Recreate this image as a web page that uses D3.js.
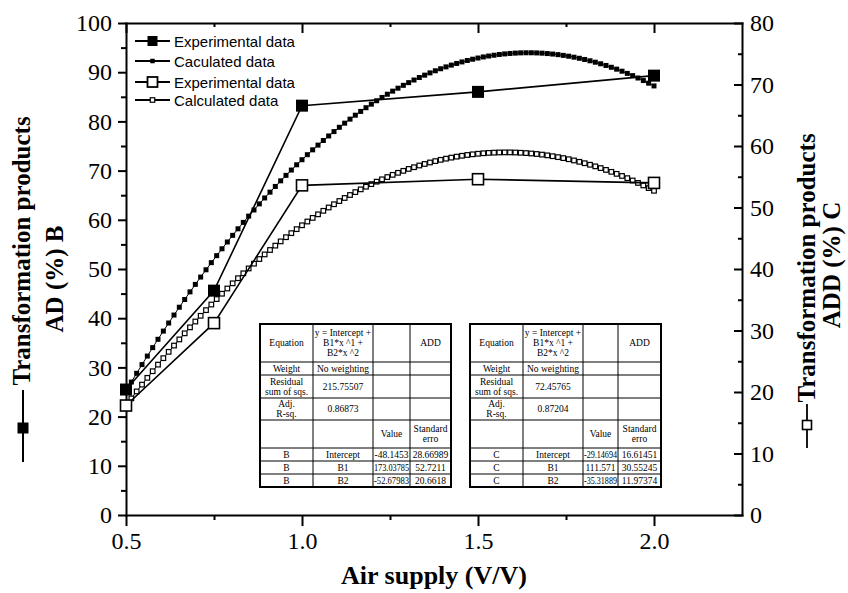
<!DOCTYPE html>
<html>
<head>
<meta charset="utf-8">
<title>Transformation products vs air supply</title>
<script src="https://d3js.org/d3.v7.min.js"></script>
<style>
	body { margin: 0; background: #fff; }
</style>
</head>
<body>
<script>

	// experimental points (B on left axis, C on right axis)
	var exp_x = [0.5, 0.75, 1.0, 1.5, 2.0];
	var exp_b = [25.5, 45.6, 83.2, 86.0, 89.3];
	var exp_c = [17.8, 31.2, 53.6, 54.6, 54.0];

	// calculated (fitted) curves, 100 points each
	var calc_x = [0.5,0.5152,0.5303,0.5455,0.5606,0.5758,0.5909,0.6061,0.6212,0.6364,0.6515,0.6667,0.6818,0.697,0.7121,0.7273,0.7424,0.7576,0.7727,0.7879,0.803,0.8182,0.8333,0.8485,0.8636,0.8788,0.8939,0.9091,0.9242,0.9394,0.9545,0.9697,0.9848,
		1.0,1.0152,1.0303,1.0455,1.0606,1.0758,1.0909,1.1061,1.1212,1.1364,1.1515,1.1667,1.1818,1.197,1.2121,1.2273,1.2424,1.2576,1.2727,1.2879,1.303,1.3182,1.3333,1.3485,1.3636,1.3788,1.3939,1.4091,1.4242,1.4394,1.4545,1.4697,1.4848,
		1.5,1.5152,1.5303,1.5455,1.5606,1.5758,1.5909,1.6061,1.6212,1.6364,1.6515,1.6667,1.6818,1.697,1.7121,1.7273,1.7424,1.7576,1.7727,1.7879,1.803,1.8182,1.8333,1.8485,1.8636,1.8788,1.8939,1.9091,1.9242,1.9394,1.9545,1.9697,1.9848,2.0];
	var calc_b = [25.2,27.02,28.8,30.57,32.3,34.02,35.71,37.38,39.02,40.64,42.23,43.8,45.35,46.87,48.36,49.84,51.29,52.71,54.11,55.49,56.84,58.17,59.47,60.75,62.0,63.24,64.44,65.62,66.78,67.92,69.03,70.11,71.18,
		72.21,73.23,74.22,75.18,76.12,77.04,77.93,78.8,79.64,80.46,81.26,82.03,82.78,83.5,84.2,84.87,85.52,86.15,86.75,87.33,87.88,88.41,88.92,89.4,89.86,90.29,90.7,91.08,91.44,91.78,92.09,92.38,92.64,
		92.88,93.1,93.29,93.45,93.6,93.72,93.81,93.88,93.93,93.95,93.95,93.92,93.87,93.79,93.69,93.57,93.42,93.25,93.05,92.83,92.59,92.32,92.03,91.71,91.37,91.0,90.62,90.2,89.76,89.3,88.82,88.3,87.77,87.21];
	var calc_c = [17.81,18.96,20.09,21.2,22.3,23.38,24.45,25.5,26.53,27.55,28.55,29.54,30.51,31.46,32.39,33.31,34.22,35.11,35.98,36.83,37.67,38.5,39.3,40.09,40.87,41.62,42.37,43.09,43.8,44.49,45.17,45.83,46.48,
		47.11,47.72,48.31,48.89,49.46,50.0,50.53,51.05,51.55,52.03,52.5,52.95,53.38,53.8,54.2,54.58,54.95,55.31,55.64,55.96,56.27,56.55,56.83,57.08,57.32,57.54,57.75,57.94,58.11,58.27,58.41,58.54,58.65,
		58.74,58.82,58.88,58.92,58.95,58.96,58.96,58.94,58.9,58.85,58.78,58.7,58.6,58.48,58.34,58.19,58.03,57.85,57.65,57.43,57.2,56.95,56.69,56.41,56.11,55.8,55.47,55.13,54.77,54.39,54.0,53.59,53.16,52.72];

	// ticks
	var x_major = [0.5, 1.0, 1.5, 2.0];
	var x_minor = [0.75, 1.25, 1.75];
	var yl_major = [0, 10, 20, 30, 40, 50, 60, 70, 80, 90, 100];
	var yl_minor = [5, 15, 25, 35, 45, 55, 65, 75, 85, 95];
	var yr_major = [0, 10, 20, 30, 40, 50, 60, 70, 80];
	var yr_minor = [5, 15, 25, 35, 45, 55, 65, 75];

	var legend_labels = ["Experimental data", "Caculated data", "Experimental data", "Calculated data"];
	var legend_marks = ["big_filled", "small_filled", "big_open", "small_open"];

	// fit tables
	var table_b = [
		["Equation", "y = Intercept +\nB1*x ^1 +\nB2*x ^2", "", "ADD"],
		["Weight", "No weighting", "", ""],
		["Residual\nsum of sqs.", "215.75507", "", ""],
		["Adj.\nR-sq.", "0.86873", "", ""],
		["", "", "Value", "Standard\nerro"],
		["B", "Intercept", "-48.1453", "28.66989"],
		["B", "B1", "173.03785", "52.7211"],
		["B", "B2", "-52.67983", "20.6618"]
	];
	var table_c = [
		["Equation", "y = Intercept +\nB1*x ^1 +\nB2*x ^2", "", "ADD"],
		["Weight", "No weighting", "", ""],
		["Residual\nsum of sqs.", "72.45765", "", ""],
		["Adj.\nR-sq.", "0.87204", "", ""],
		["", "", "Value", "Standard\nerro"],
		["C", "Intercept", "-29.14694", "16.61451"],
		["C", "B1", "111.571", "30.55245"],
		["C", "B2", "-35.31889", "11.97374"]
	];

	var serif = "'Liberation Serif', 'Times New Roman', serif";
	var sans = "'Liberation Sans', Arial, sans-serif";

	var width = 848;
	var height = 593;

	var svg = d3.select('body').append('svg')
		.attr('width', width)
		.attr('height', height);

	var x = d3.scaleLinear().domain([0.5, 2.25]).range([126, 742]);
	var yl = d3.scaleLinear().domain([0, 100]).range([515, 23]);
	var yr = d3.scaleLinear().domain([0, 80]).range([515, 23]);

	// axis styling helper
	function style_axis(g, keep_domain) {
		if (!keep_domain) {
			g.select('.domain').remove();
		}
		g.selectAll('.domain').attr('stroke', '#000').attr('stroke-width', 2).attr('stroke-linecap', 'square');
		g.selectAll('line').attr('stroke', '#000').attr('stroke-width', 2);
		g.selectAll('text').attr('font-family', serif).attr('font-size', 24).attr('fill', '#000');
	}

	// bottom
	svg.append('g').attr('transform', 'translate(0,515)')
		.call(d3.axisBottom(x).tickValues(x_major).tickSize(11).tickSizeOuter(0).tickPadding(6).tickFormat(d3.format('.1f')))
		.call(style_axis, true);
	svg.append('g').attr('transform', 'translate(0,515)')
		.call(d3.axisBottom(x).tickValues(x_minor).tickSize(5).tickFormat(''))
		.call(style_axis, false);
	// top (mirror, ticks inward)
	svg.append('g').attr('transform', 'translate(0,23)')
		.call(d3.axisTop(x).tickValues(x_major).tickSize(-10).tickSizeOuter(0).tickFormat(''))
		.call(style_axis, true);
	svg.append('g').attr('transform', 'translate(0,23)')
		.call(d3.axisTop(x).tickValues(x_minor).tickSize(-4).tickFormat(''))
		.call(style_axis, false);
	// left
	svg.append('g').attr('transform', 'translate(126,0)')
		.call(d3.axisLeft(yl).tickValues(yl_major).tickSize(8).tickSizeOuter(0).tickPadding(6).tickFormat(d3.format('d')))
		.call(style_axis, true);
	svg.append('g').attr('transform', 'translate(126,0)')
		.call(d3.axisLeft(yl).tickValues(yl_minor).tickSize(5).tickFormat(''))
		.call(style_axis, false);
	// right (ticks inward, labels outside)
	svg.append('g').attr('transform', 'translate(742,0)')
		.call(d3.axisRight(yr).tickValues(yr_major).tickSize(-8).tickSizeOuter(0).tickPadding(8).tickFormat(d3.format('d')))
		.call(style_axis, true);
	svg.append('g').attr('transform', 'translate(742,0)')
		.call(d3.axisRight(yr).tickValues(yr_minor).tickSize(-4).tickFormat(''))
		.call(style_axis, false);

	// calculated curves
	svg.append('path').datum(calc_x)
		.attr('fill', 'none').attr('stroke', '#000').attr('stroke-width', 1)
		.attr('d', d3.line().x(function(d) { return x(d); }).y(function(d, i) { return yl(calc_b[i]); }));
	svg.append('path').datum(calc_x)
		.attr('fill', 'none').attr('stroke', '#000').attr('stroke-width', 1)
		.attr('d', d3.line().x(function(d) { return x(d); }).y(function(d, i) { return yr(calc_c[i]); }));

	svg.append('g').selectAll('rect')
		.data(calc_x)
		.enter()
		.append('rect')
		.attr('x', function(d) { return x(d) - 2.5; })
		.attr('y', function(d, i) { return yl(calc_b[i]) - 2.5; })
		.attr('width', 5).attr('height', 5)
		.attr('fill', '#000');
	svg.append('g').selectAll('rect')
		.data(calc_x)
		.enter()
		.append('rect')
		.attr('x', function(d) { return x(d) - 2.3; })
		.attr('y', function(d, i) { return yr(calc_c[i]) - 2.3; })
		.attr('width', 4.6).attr('height', 4.6)
		.attr('fill', '#fff').attr('stroke', '#000').attr('stroke-width', 1.2);

	// experimental lines + markers
	svg.append('path').datum(exp_x)
		.attr('fill', 'none').attr('stroke', '#000').attr('stroke-width', 1.6)
		.attr('d', d3.line().x(function(d) { return x(d); }).y(function(d, i) { return yl(exp_b[i]); }));
	svg.append('path').datum(exp_x)
		.attr('fill', 'none').attr('stroke', '#000').attr('stroke-width', 1.6)
		.attr('d', d3.line().x(function(d) { return x(d); }).y(function(d, i) { return yr(exp_c[i]); }));

	svg.append('g').selectAll('rect')
		.data(exp_x)
		.enter()
		.append('rect')
		.attr('x', function(d) { return x(d) - 6; })
		.attr('y', function(d, i) { return yl(exp_b[i]) - 6; })
		.attr('width', 12).attr('height', 12)
		.attr('fill', '#000');
	svg.append('g').selectAll('rect')
		.data(exp_x)
		.enter()
		.append('rect')
		.attr('x', function(d) { return x(d) - 5.5; })
		.attr('y', function(d, i) { return yr(exp_c[i]) - 5.5; })
		.attr('width', 11).attr('height', 11)
		.attr('fill', '#fff').attr('stroke', '#000').attr('stroke-width', 1.6);

	// draw a marker of a given kind centered at cx, cy
	function draw_mark(g, kind, cx, cy) {
		var s = kind.indexOf('big') == 0 ? 10 : 4.5;
		var open = kind.indexOf('open') > 0;
		g.append('rect')
			.attr('x', cx - s / 2).attr('y', cy - s / 2)
			.attr('width', s).attr('height', s)
			.attr('fill', open ? '#fff' : '#000')
			.attr('stroke', open ? '#000' : 'none')
			.attr('stroke-width', open ? (s > 6 ? 1.8 : 1.2) : 0);
	}

	// legend
	var legend_y = [41, 61, 82, 100];
	var lg = svg.append('g');
	for (var i = 0; i < legend_labels.length; i = i + 1) {
		lg.append('line')
			.attr('x1', 135).attr('x2', 170)
			.attr('y1', legend_y[i]).attr('y2', legend_y[i])
			.attr('stroke', '#000').attr('stroke-width', i % 2 == 0 ? 2.2 : 1.8);
		draw_mark(lg, legend_marks[i], 152.5, legend_y[i]);
		lg.append('text')
			.attr('x', 174).attr('y', legend_y[i] + 5.5)
			.attr('font-family', sans).attr('font-size', 15)
			.text(legend_labels[i]);
	}

	// fit table
	function draw_table(x0, y0, col_w, row_h, rows) {
		var g = svg.append('g');
		var xs = [x0];
		col_w.forEach(function(w) { xs.push(xs[xs.length - 1] + w); });
		var ys = [y0];
		row_h.forEach(function(h) { ys.push(ys[ys.length - 1] + h); });
		var x1 = xs[xs.length - 1];
		var y1 = ys[ys.length - 1];
		var ls = 10;

		g.append('rect').attr('x', x0).attr('y', y0)
			.attr('width', x1 - x0).attr('height', y1 - y0)
			.attr('fill', '#fff');
		for (var c = 1; c < xs.length - 1; c = c + 1) {
			g.append('line').attr('x1', xs[c]).attr('x2', xs[c]).attr('y1', y0).attr('y2', y1)
				.attr('stroke', '#000').attr('stroke-width', 1);
		}
		for (var r = 1; r < ys.length - 1; r = r + 1) {
			g.append('line').attr('x1', x0).attr('x2', x1).attr('y1', ys[r]).attr('y2', ys[r])
				.attr('stroke', '#000').attr('stroke-width', 1);
		}
		for (var r = 0; r < rows.length; r = r + 1) {
			for (var c = 0; c < rows[r].length; c = c + 1) {
				var lines = rows[r][c] == "" ? [] : rows[r][c].split('\n');
				var cx = (xs[c] + xs[c + 1]) / 2;
				var cy = (ys[r] + ys[r + 1]) / 2;
				for (var k = 0; k < lines.length; k = k + 1) {
					var t = g.append('text')
						.attr('x', cx)
						.attr('y', cy - (lines.length - 1) * ls / 2 + k * ls + 3.3)
						.attr('text-anchor', 'middle')
						.attr('font-family', serif).attr('font-size', 9.5)
						.text(lines[k]);
					var w = col_w[c] - 2;
					if (t.node().getComputedTextLength() > w) {
						t.attr('textLength', w).attr('lengthAdjust', 'spacingAndGlyphs');
					}
				}
			}
		}
		g.append('rect').attr('x', x0).attr('y', y0)
			.attr('width', x1 - x0).attr('height', y1 - y0)
			.attr('fill', 'none').attr('stroke', '#000').attr('stroke-width', 2);
	}

	var row_h = [38, 13, 23, 22, 28, 13, 13, 13];
	draw_table(260, 324, [53, 60, 37, 41], row_h, table_b);
	draw_table(470, 324, [53, 60, 35, 43], row_h, table_c);

	// axis titles
	svg.append('text')
		.attr('x', 434).attr('y', 584)
		.attr('text-anchor', 'middle')
		.attr('font-family', serif).attr('font-weight', 'bold').attr('font-size', 26)
		.text('Air supply (V/V)');

	var lt = svg.append('g').attr('font-family', serif).attr('font-weight', 'bold').attr('font-size', 25);
	lt.append('text').attr('transform', 'translate(30,251) rotate(-90)').attr('text-anchor', 'middle')
		.text('Transformation products');
	lt.append('text').attr('transform', 'translate(63,279) rotate(-90)').attr('text-anchor', 'middle')
		.text('AD (%) B');
	lt.append('line').attr('x1', 23).attr('x2', 23).attr('y1', 390).attr('y2', 462)
		.attr('stroke', '#000').attr('stroke-width', 2);
	lt.append('rect').attr('x', 17.5).attr('y', 422.5).attr('width', 11).attr('height', 11).attr('fill', '#000');

	var rt = svg.append('g').attr('font-family', serif).attr('font-weight', 'bold').attr('font-size', 25);
	rt.append('text').attr('transform', 'translate(815,268) rotate(-90)').attr('text-anchor', 'middle')
		.text('Transformation products');
	rt.append('text').attr('transform', 'translate(840,265) rotate(-90)').attr('text-anchor', 'middle')
		.text('ADD (%) C');
	rt.append('line').attr('x1', 807).attr('x2', 807).attr('y1', 404).attr('y2', 448)
		.attr('stroke', '#000').attr('stroke-width', 1.8);
	rt.append('rect').attr('x', 802.5).attr('y', 420.5).attr('width', 9).attr('height', 9)
		.attr('fill', '#fff').attr('stroke', '#000').attr('stroke-width', 1.6);

</script>
</body>
</html>
